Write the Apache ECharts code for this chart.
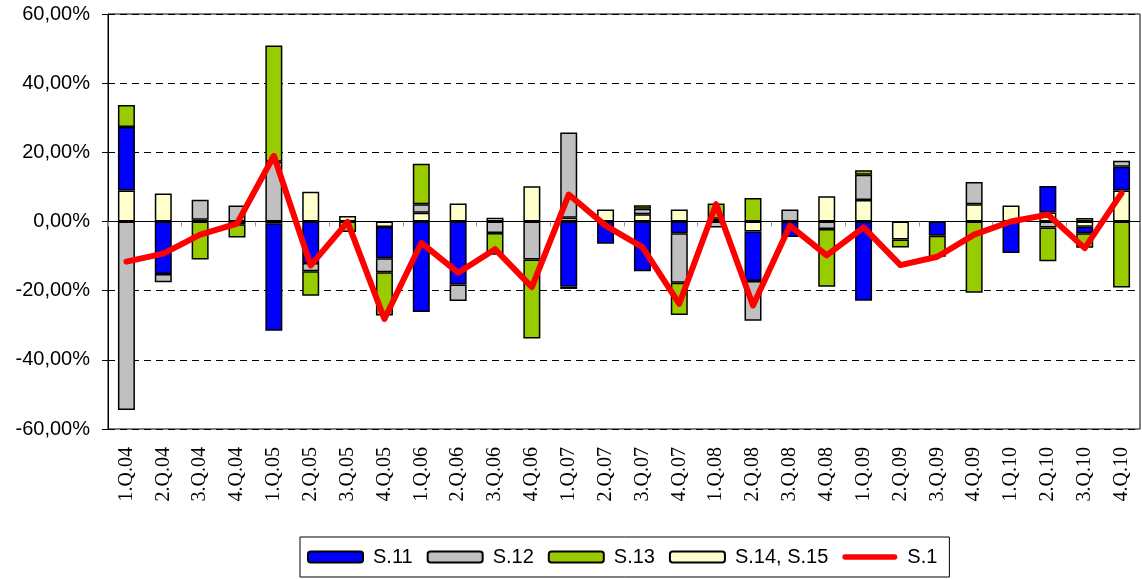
<!DOCTYPE html>
<html>
<head>
<meta charset="utf-8">
<script src="https://cdn.jsdelivr.net/npm/echarts@6/dist/echarts.min.js"></script>
<style>
  html, body { margin: 0; padding: 0; background: #fff; }
  #chart { width: 1142px; height: 579px; }
</style>
</head>
<body>
<div id="chart"></div>
<script>
// quarters
var categories = ["1.Q.04", "2.Q.04", "3.Q.04", "4.Q.04", "1.Q.05", "2.Q.05", "3.Q.05", "4.Q.05",
  "1.Q.06", "2.Q.06", "3.Q.06", "4.Q.06", "1.Q.07", "2.Q.07", "3.Q.07", "4.Q.07",
  "1.Q.08", "2.Q.08", "3.Q.08", "4.Q.08", "1.Q.09", "2.Q.09", "3.Q.09", "4.Q.09",
  "1.Q.10", "2.Q.10", "3.Q.10", "4.Q.10"];

// sector contributions, %
var s11 = [18.3, -15.2, 0.5, 0, -31.1, -12.0, 0, -9.0, -26.2, -18.2, 0, 0, -18.9, -6.4,
  -14.4, -3.4, 0.8, -14.3, -4.5, 0, -22.9, 0, -4.1, 0, -9.1, 7.7, -1.9, 6.8];
var s12 = [-54.5, -2.4, 5.8, 4.6, 17.3, -2.4, 0, -4.1, 2.5, -4.8, -3.3, -11.0, 24.6, 0,
  1.6, -14.3, -1.7, -11.5, 3.5, -2.2, 7.3, 0, 0, 6.4, 0, -1.7, 1.0, 1.8];
var s13 = [6.4, 0, -11.0, -3.8, 33.6, -7.1, -3.0, -12.5, 11.7, 0, -6.3, -22.8, -0.6, 0,
  1.0, -9.3, 4.4, 6.8, 0, -16.7, 1.3, -2.3, -6.1, -20.6, 0, -9.8, -4.2, -19.1];
var s14 = [9.0, 8.1, 0, -0.8, -0.5, 8.6, 1.6, -1.6, 2.5, 5.2, 1.1, 10.2, 1.1, 3.5,
  2.1, 3.5, 0, -2.9, 0, 7.3, 6.2, -5.2, 0, 5.0, 4.6, 2.6, -1.5, 9.0];
// total
var s1 = [-11.6, -9.3, -3.8, -0.6, 19.0, -12.7, -0.1, -28.2, -6.2, -14.8, -8.0, -19.0, 7.8, -1.2,
  -7.4, -23.8, 5.0, -24.3, -1.2, -9.8, -1.7, -12.6, -10.2, -3.8, 0.0, 2.0, -7.7, 8.2];

var yTicks = { min: -60, max: 60, step: 20 };

function noZero(arr) {
  return arr.map(function (v) { return v === 0 ? "-" : v; });
}

function barSeries(name, data, color) {
  return {
    name: name,
    type: "bar",
    stack: "total",
    barWidth: 17,
    data: noZero(data),
    itemStyle: { color: color, borderColor: "#000", borderWidth: 1.5 },
  };
}

// thick rounded stroke for the S.1 legend entry
var lineIcon = "path://M3,0 H57 A3,3 0 0 1 57,6 H3 A3,3 0 0 1 3,0 Z";

var chart = echarts.init(document.getElementById("chart"));
chart.setOption({
  animation: false,
  backgroundColor: "#fff",
  grid: {
    left: 108,
    right: 2,
    top: 14,
    bottom: 150,
    show: true,
    borderColor: "#000",
    borderWidth: 1,
  },
  legend: {
    data: ["S.11", "S.12", "S.13", "S.14, S.15",
      { name: "S.1", icon: lineIcon, itemStyle: { color: "#FF0000", borderWidth: 0 } }],
    left: 300,
    top: 537,
    padding: [10, 12, 10, 7],
    itemWidth: 55,
    itemHeight: 11,
    itemGap: 14,
    borderColor: "#000",
    borderWidth: 1,
    textStyle: {
      fontFamily: "Liberation Sans",
      fontSize: 20,
      color: "#000",
      padding: [0, 0, 0, 5],
    },
  },
  xAxis: [
    {
      type: "category",
      data: categories,
      position: "bottom",
      axisLine: { show: false, onZero: false },
      axisTick: { show: false },
      axisLabel: {
        rotate: 90,
        interval: 0,
        margin: 18,
        fontFamily: "Liberation Serif",
        fontSize: 20,
        color: "#000",
      },
    },
    {
      type: "category",
      data: categories,
      position: "bottom",
      axisLine: { show: true, onZero: true, lineStyle: { color: "#000", width: 1 } },
      axisTick: { show: true, length: 5, lineStyle: { color: "#999" } },
      axisLabel: { show: false },
    },
  ],
  yAxis: {
    type: "value",
    min: yTicks.min,
    max: yTicks.max,
    interval: yTicks.step,
    axisLine: { show: true, lineStyle: { color: "#000" } },
    axisTick: { show: true, length: 6, lineStyle: { color: "#000" } },
    splitLine: { show: true, lineStyle: { color: "#000", type: [7, 5], width: 1 } },
    axisLabel: {
      margin: 18,
      fontFamily: "Liberation Sans",
      fontSize: 20,
      color: "#000",
      formatter: function (v) {
        return v.toFixed(2).replace(".", ",") + "%";
      },
    },
  },
  series: [
    // excel stacks cream first
    barSeries("S.14, S.15", s14, "#FFFFCC"),
    barSeries("S.11", s11, "#0000FF"),
    barSeries("S.12", s12, "#C0C0C0"),
    barSeries("S.13", s13, "#99CC00"),
    {
      name: "S.1",
      type: "line",
      data: s1,
      symbol: "none",
      z: 5,
      lineStyle: { color: "#FF0000", width: 6, cap: "round", join: "round" },
      itemStyle: { color: "#FF0000" },
    },
  ],
});
</script>
</body>
</html>
